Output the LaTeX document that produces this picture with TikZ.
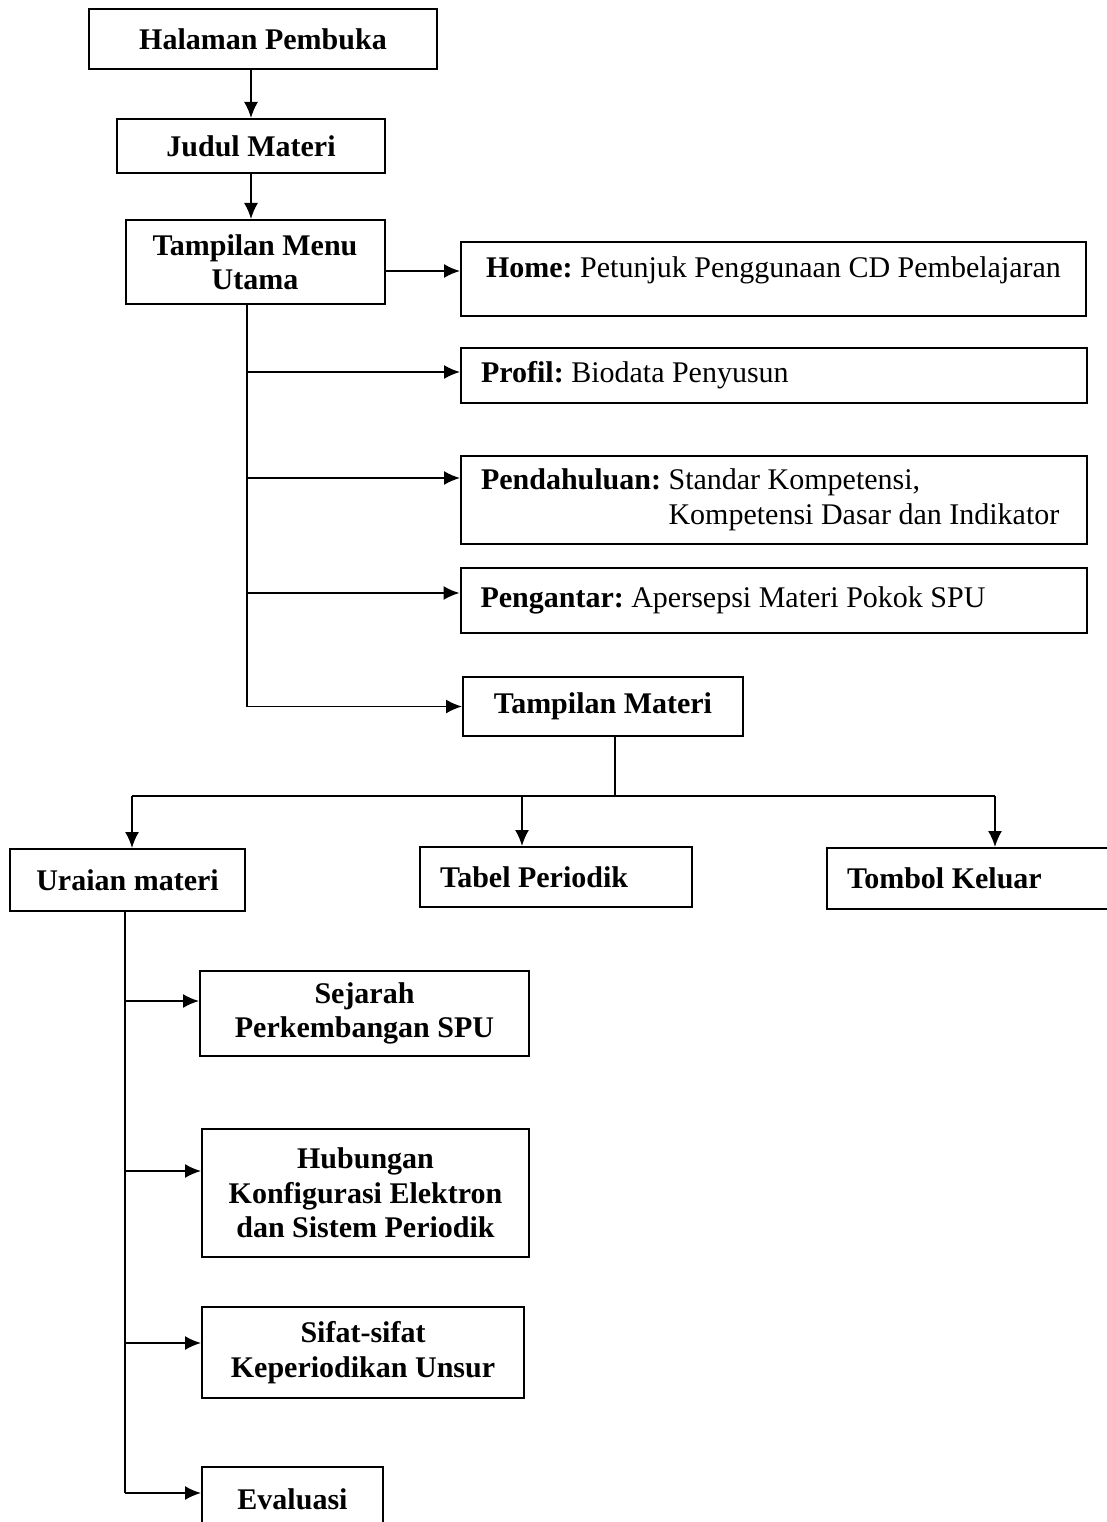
\documentclass[tikz,border=0pt]{standalone}
\usepackage{fontspec}
\setmainfont{Liberation Serif}
\usetikzlibrary{arrows.meta}
\frenchspacing

\tikzset{
  box/.style={draw, line width=2pt, inner sep=0pt, align=center,
    font=\fontsize{30}{34.5}\selectfont\bfseries},
  menubox/.style={draw, line width=2pt, inner xsep=20pt, inner ysep=0pt,
    align=flush left, text width=#1, font=\fontsize{30}{34.5}\selectfont},
  arr/.style={line width=1.8pt, -{Latex[length=16pt,width=14pt]}},
  link/.style={line width=1.8pt}
}

\begin{document}
\begin{tikzpicture}[x=1pt, y=-1pt]
            \useasboundingbox (0,0) rectangle (1107,1522);
            \clip (0,0) rectangle (1107,1522);
            \fill [white] (0,0) rectangle (1107,1522);

            \node [box, minimum width=348pt, minimum height=60pt] (halaman) at (263,39) {Halaman Pembuka};
            \node [box, minimum width=268pt, minimum height=54pt] (judul) at (251,146) {Judul Materi};
            \node [box, minimum width=259pt, minimum height=84pt] (tmu) at (255,262) {Tampilan Menu\\Utama};
            \node [box, font=\fontsize{30}{34.5}\selectfont, minimum width=625pt, minimum height=74pt, text depth=24pt] (home) at (773.5,279) {\textbf{Home:} Petunjuk Penggunaan CD Pembelajaran};
            \node [menubox=586pt, minimum height=55pt] (profil) at (774,375.5) {\textbf{Profil:} Biodata Penyusun};
            \node [menubox=586pt, minimum height=88pt] (pendahuluan) at (774,500) {\textbf{Pendahuluan:} Standar Kompetensi,\\\hphantom{\textbf{Pendahuluan:} }Kompetensi Dasar dan Indikator};
            \node [menubox=586pt, minimum height=65pt] (pengantar) at (773.5,600.5) {\textbf{Pengantar:} Apersepsi Materi Pokok SPU};
            \node [box, minimum width=280pt, minimum height=59pt] (materi) at (603,706.5) {Tampilan Materi};

            \node [box, minimum width=235pt, minimum height=62pt] (uraian) at (127.5,880) {Uraian materi};
            \node [menubox=232pt, font=\fontsize{30}{34.5}\selectfont\bfseries, minimum height=60pt] (tabel) at (556,877) {Tabel Periodik};
            \node [menubox=253pt, font=\fontsize{30}{34.5}\selectfont\bfseries, minimum height=61pt] (keluar) at (973.5,878.5) {Tombol Keluar};

            \node [box, minimum width=329pt, minimum height=85pt] (sejarah) at (364.5,1013.5) {Sejarah\\Perkembangan SPU};
            \node [box, minimum width=327pt, minimum height=128pt] (hubungan) at (365.5,1193) {Hubungan\\Konfigurasi Elektron\\dan Sistem Periodik};
            \node [box, minimum width=322pt, minimum height=91pt] (sifat) at (363,1352.5) {Sifat-sifat\\Keperiodikan Unsur};
            \node [box, minimum width=181pt, minimum height=64pt] (evaluasi) at (292.5,1499) {Evaluasi};

            \draw [arr] (halaman.south -| judul.north) -- (judul.north);
            \draw [arr] (judul.south) -- (judul.south |- tmu.north);
            \draw [arr] ([yshift=-9pt]tmu.east) -- ([yshift=-9pt]tmu.east -| home.west);

            \coordinate (tProfil) at (247,372);
            \coordinate (tPendahuluan) at (247,478);
            \coordinate (tPengantar) at (247,593);
            \draw [link] (tmu.south -| tProfil) -- (tProfil);
            \draw [arr] (tProfil) -- (tProfil -| profil.west);
            \draw [arr] (tPendahuluan) -- (tPendahuluan -| pendahuluan.west);
            \draw [arr] (tPengantar) -- (tPengantar -| pengantar.west);
            \draw [arr] (tProfil) |- (materi);

            \coordinate (bus) at (615,796);
            \coordinate (dUraian) at (132,796);
            \coordinate (dTabel) at (522,796);
            \coordinate (dKeluar) at (995,796);
            \draw [link] (materi.south -| bus) -- (bus);
            \draw [link] (dUraian) -- (dKeluar);
            \draw [arr] (dUraian) -- (dUraian |- uraian.north);
            \draw [arr] (dTabel) -- (dTabel |- tabel.north);
            \draw [arr] (dKeluar) -- (dKeluar |- keluar.north);

            \coordinate (uSejarah) at (125,1001);
            \coordinate (uHubungan) at (125,1171);
            \coordinate (uSifat) at (125,1343);
            \coordinate (uEvaluasi) at (125,1493);
            \draw [link] (uraian.south -| uSejarah) -- (uEvaluasi);
            \draw [arr] (uSejarah) -- (uSejarah -| sejarah.west);
            \draw [arr] (uHubungan) -- (uHubungan -| hubungan.west);
            \draw [arr] (uSifat) -- (uSifat -| sifat.west);
            \draw [arr] (uEvaluasi) -- (uEvaluasi -| evaluasi.west);
\end{tikzpicture}
\end{document}
